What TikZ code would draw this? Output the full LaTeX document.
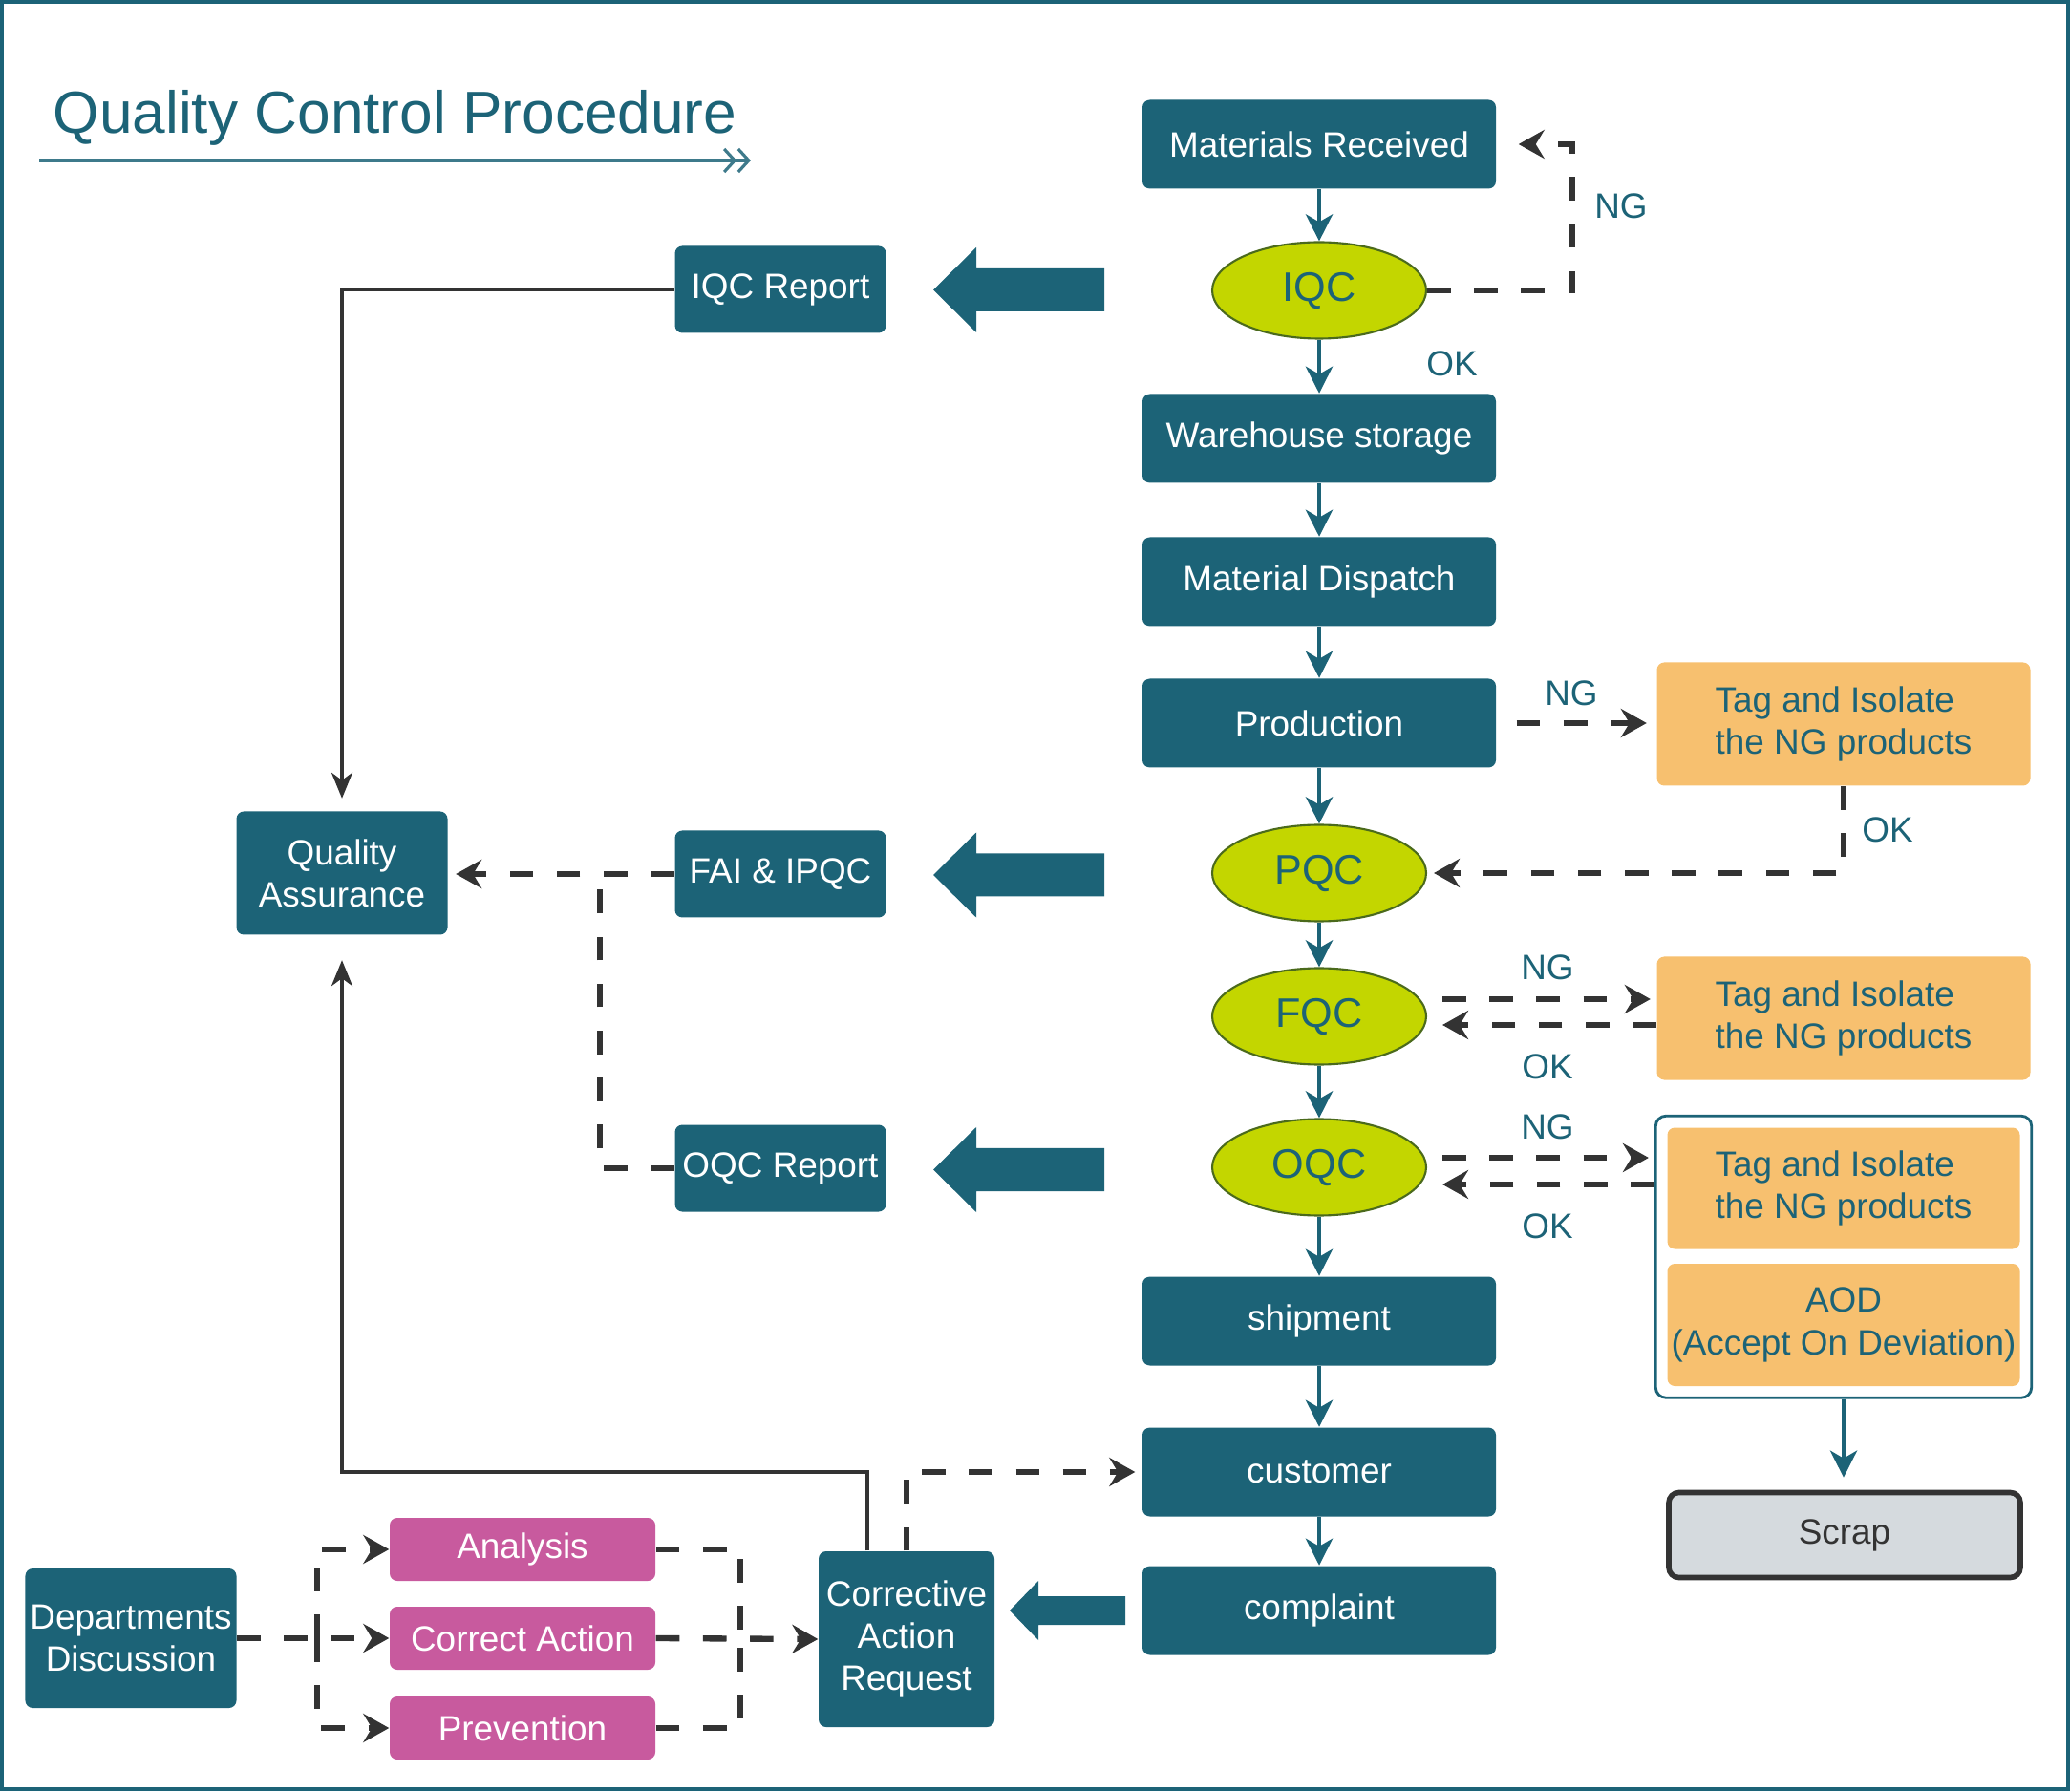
\documentclass[tikz,border=0pt]{standalone}
\usepackage{fontspec}
\setmainfont{Liberation Sans}
\usetikzlibrary{shapes.geometric, arrows.meta, fit}
\definecolor{qcteal}{HTML}{1C6377}
\definecolor{qclime}{HTML}{C3D600}
\definecolor{qcleaf}{HTML}{4B6A1C}
\definecolor{qcorange}{HTML}{F7C06F}
\definecolor{qcpink}{HTML}{C85A9E}
\definecolor{qcgray}{HTML}{D5DADE}
\definecolor{qcdark}{HTML}{333333}
\begin{document}
\begin{tikzpicture}[font=\fontsize{10.5}{12.6}\selectfont,
	stage/.style={rectangle, fill=qcteal, text=white, rounded corners=2.2pt, minimum width=37mm, minimum height=9.3mm, inner sep=1pt, align=center},
	report/.style={stage, minimum width=22.1mm, minimum height=9.1mm},
	check/.style={ellipse, draw=qcleaf, line width=0.6pt, fill=qclime, text=qcteal, minimum width=22.4mm, minimum height=10.1mm, inner sep=1pt, font=\fontsize{12.3}{14}\selectfont},
	hold/.style={rectangle, fill=qcorange, text=qcteal, rounded corners=2.2pt, minimum width=39.1mm, minimum height=12.9mm, inner sep=1pt, align=left},
	task/.style={rectangle, fill=qcpink, text=white, rounded corners=2.2pt, minimum width=27.8mm, minimum height=6.6mm, inner sep=1pt},
	verdict/.style={text=qcteal, inner sep=0pt},
	mainflow/.style={-{Stealth[length=2.8mm, width=2.8mm, inset=0.8mm]}, qcteal, line width=1.4pt},
	dashflow/.style={-{Stealth[length=2.7mm, width=3mm, inset=0.9mm]}, qcdark, line width=1.8pt, dash pattern=on 7pt off 7pt},
	feedline/.style={-{Stealth[length=2.7mm, width=2.2mm, inset=0.8mm]}, qcdark, line width=1pt}]
	\useasboundingbox (0,0) rectangle (21.67,18.75);
	\draw[qcteal, line width=1pt] (0.02,0.02) rectangle (21.65,18.73);

	\node[anchor=base west, text=qcteal, inner sep=0pt, font=\fontsize{17.7}{20}\selectfont] (title) at (0.55,17.35) {Quality Control Procedure};
	\draw[qcteal!85, line width=0.9pt, -{Straight Barb[length=1.1mm, width=2.4mm]Straight Barb[length=1.1mm, width=2.4mm]}] ([xshift=-1.4mm, yshift=-2.8mm]title.base west) -- ++(7.45,0);

	% main column
	\node[stage] (mat) at (13.81,17.24) {Materials Received};
	\node[check] (iqc) at (13.81,15.71) {IQC};
	\node[stage] (wh) at (13.81,14.16) {Warehouse storage};
	\node[stage] (disp) at (13.81,12.66) {Material Dispatch};
	\node[stage] (prod) at (13.81,11.18) {Production};
	\node[check] (pqc) at (13.81,9.61) {PQC};
	\node[check] (fqc) at (13.81,8.11) {FQC};
	\node[check] (oqc) at (13.81,6.53) {OQC};
	\node[stage] (ship) at (13.81,4.92) {shipment};
	\node[stage] (cust) at (13.81,3.34) {customer};
	\node[stage] (compl) at (13.81,1.89) {complaint};
	\draw (mat) edge[mainflow] (iqc);
	\draw (iqc) edge[mainflow] (wh);
	\draw (wh) edge[mainflow] (disp);
	\draw (disp) edge[mainflow] (prod);
	\draw (prod) edge[mainflow] (pqc);
	\draw (pqc) edge[mainflow] (fqc);
	\draw (fqc) edge[mainflow] (oqc);
	\draw (oqc) edge[mainflow] (ship);
	\draw (ship) edge[mainflow] (cust);
	\draw (cust) edge[mainflow] (compl);

	% NG / OK loops
	\node[hold] (tag1) at (19.30,11.17) {Tag and Isolate\\the NG products};
	\node[hold] (tag2) at (19.30,8.09) {Tag and Isolate\\the NG products};
	\node[hold, minimum width=36.9mm, minimum height=12.7mm] (tag3) at (19.30,6.31) {Tag and Isolate\\the NG products};
	\node[hold, align=center, minimum width=36.9mm, minimum height=12.8mm] (aod) at (19.30,4.88) {AOD\\(Accept On Deviation)};
	\node[draw=qcteal, line width=0.8pt, rounded corners=3pt, inner sep=1.15mm, fit=(tag3)(aod)] (grp) {};
	\node[rectangle, draw=qcdark, line width=1.6pt, fill=qcgray, text=qcdark, rounded corners=3pt, minimum width=36.8mm, minimum height=8.9mm] (scrap) at (19.31,2.68) {Scrap};
	\draw[mainflow, shorten >=1.3mm] (grp.south) -- (grp.south |- scrap.north);

	\draw[dashflow, shorten >=2.3mm] (iqc.east) -- ++(1.52,0) |- (mat.east);
	\draw[dashflow, shorten <=2.1mm, shorten >=1mm] (prod.east) -- (prod.east -| tag1.west);
	\draw[dashflow, shorten >=0.7mm] (tag1.south) |- (pqc.east);
	\draw[dashflow, shorten <=1.6mm, shorten >=0.6mm] ([yshift=1.8mm]fqc.east) -- ([yshift=1.8mm]fqc.east -| tag2.west);
	\draw[dashflow, shorten >=1.6mm] ([yshift=-0.9mm]fqc.east -| tag2.west) -- ([yshift=-0.9mm]fqc.east);
	\draw[dashflow, shorten <=1.6mm, shorten >=0.6mm] ([yshift=1mm]oqc.east) -- ([yshift=1mm]oqc.east -| grp.west);
	\draw[dashflow, shorten >=1.6mm] ([yshift=-1.8mm]oqc.east -| grp.west) -- ([yshift=-1.8mm]oqc.east);

	\node[verdict] (ng1) at (16.97,16.59) {NG};
	\node[verdict] (ok1) at (15.20,14.94) {OK};
	\node[verdict] (ng2) at (16.45,11.49) {NG};
	\node[verdict] (ok2) at (19.76,10.06) {OK};
	\node[verdict] (ng3) at (16.20,8.62) {NG};
	\node[verdict] (ok3) at (16.20,7.58) {OK};
	\node[verdict] (ng4) at (16.20,6.95) {NG};
	\node[verdict] (ok4) at (16.20,5.91) {OK};

	% reports
	\node[report] (iqcr) at (8.17,15.72) {IQC Report};
	\node[report] (fai) at (8.17,9.60) {FAI \& IPQC};
	\node[report] (oqcr) at (8.17,6.52) {OQC Report};
	\node[stage, minimum width=22.1mm, minimum height=12.9mm] (qa) at (3.58,9.61) {Quality\\Assurance};
	\foreach \y in {15.715, 9.59, 6.505}
		\fill[qcteal] (11.56,\y+0.225) -- (10.22,\y+0.225) -- (10.22,\y+0.445) -- (9.77,\y) -- (10.22,\y-0.445) -- (10.22,\y-0.225) -- (11.56,\y-0.225) -- cycle;
	\fill[qcteal] (11.78,1.74) -- (10.87,1.74) -- (10.87,1.58) -- (10.57,1.89) -- (10.87,2.20) -- (10.87,2.04) -- (11.78,2.04) -- cycle;

	\draw[feedline, shorten >=1.3mm] (iqcr.west) -| (qa.north);
	\draw[dashflow, shorten >=0.8mm] (fai.west) -- (fai.west -| qa.east);
	\draw[dashflow, -] (oqcr.west) -| ([xshift=-7.75mm]fai.west);

	% corrective action
	\node[stage, minimum width=18.4mm, minimum height=18.4mm] (car) at (9.49,1.59) {Corrective\\Action\\Request};
	\node[stage, minimum width=22.1mm, minimum height=14.6mm] (dd) at (1.37,1.60) {Departments\\Discussion};
	\node[task] (ana) at (5.47,2.53) {Analysis};
	\node[task] (cact) at (5.47,1.60) {Correct Action};
	\node[task] (prev) at (5.47,0.66) {Prevention};
	\coordinate (fork) at (3.32,1.60);
	\coordinate (join) at (7.75,1.60);
	\draw[dashflow] (dd.east) -- (cact.west);
	\draw[dashflow] (fork) |- (ana.west);
	\draw[dashflow] (fork) |- (prev.west);
	\draw[dashflow, -] (ana.east) -| (join);
	\draw[dashflow, -] (prev.east) -| (join);
	\draw[dashflow] (cact.east) -- (car.west);
	\draw[feedline, shorten >=2.6mm] ([xshift=-4.1mm]car.north) |- (qa.south |- cust.west) -- (qa.south);
	\draw[dashflow, shorten >=0.7mm] (car.north) |- (cust.west);
\end{tikzpicture}
\end{document}
